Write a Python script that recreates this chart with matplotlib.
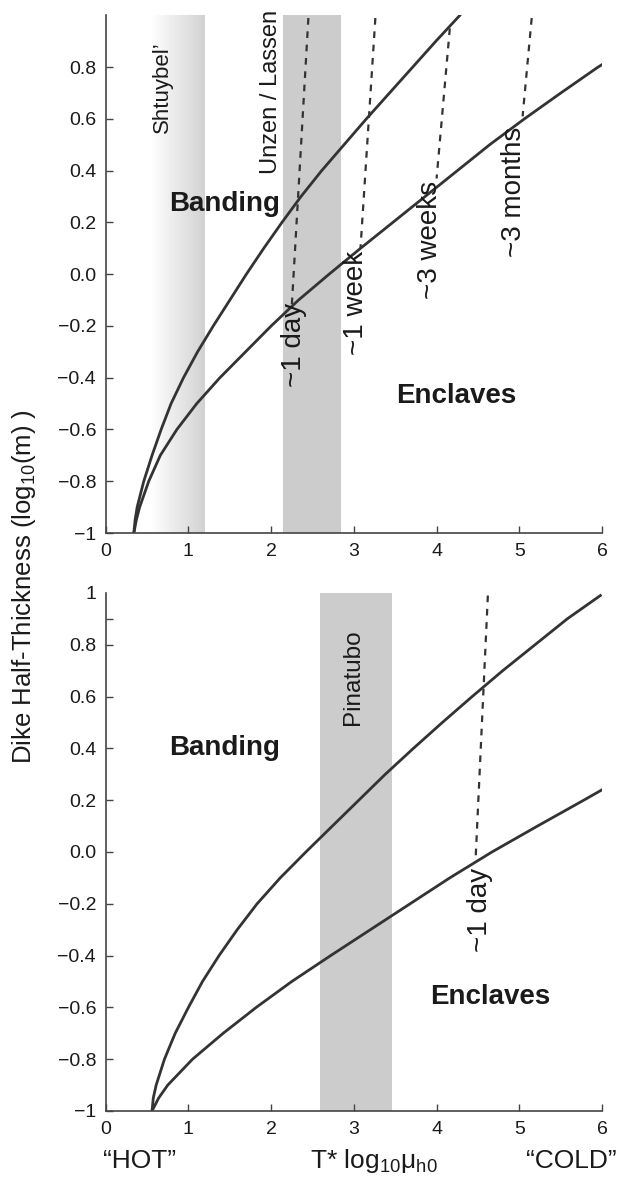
import numpy as np
import matplotlib
matplotlib.use("Agg")
import matplotlib.pyplot as plt
from matplotlib.colors import LinearSegmentedColormap

plt.rcParams['font.family'] = ['Liberation Sans', 'DejaVu Sans']
plt.rcParams['mathtext.fontset'] = 'custom'
plt.rcParams['mathtext.rm'] = 'Liberation Sans'
plt.rcParams['mathtext.it'] = 'Liberation Sans:italic'

# ---- data ----
# top panel boundary curves (x = T* log10 mu, y = log10 half thickness)
top_upper_y = [-1.0, -0.95, -0.9, -0.8, -0.7, -0.6, -0.5, -0.4, -0.3, -0.2, -0.1,
               0.0, 0.1, 0.2, 0.3, 0.4, 0.5, 0.6, 0.7, 0.8, 0.9, 1.0]
top_upper_x = [0.34, 0.355, 0.38, 0.46, 0.56, 0.67, 0.79, 0.94, 1.11, 1.30, 1.50,
               1.70, 1.91, 2.13, 2.36, 2.61, 2.88, 3.15, 3.43, 3.71, 3.99, 4.28]
top_lower_y = [-1.0, -0.95, -0.9, -0.8, -0.7, -0.6, -0.5, -0.4, -0.3, -0.2, -0.1,
               0.0, 0.1, 0.2, 0.3, 0.4, 0.5, 0.6, 0.7, 0.8, 0.81]
top_lower_x = [0.34, 0.37, 0.41, 0.52, 0.66, 0.86, 1.10, 1.38, 1.69, 2.00, 2.33,
               2.70, 3.08, 3.47, 3.86, 4.25, 4.64, 5.06, 5.50, 5.95, 6.0]

# bottom panel boundary curves
bot_upper_y = [-1.0, -0.95, -0.9, -0.8, -0.7, -0.6, -0.5, -0.4, -0.3, -0.2, -0.1,
               0.0, 0.1, 0.2, 0.3, 0.4, 0.5, 0.6, 0.7, 0.8, 0.9, 0.99]
bot_upper_x = [0.56, 0.575, 0.61, 0.71, 0.84, 1.00, 1.17, 1.37, 1.59, 1.83, 2.11,
               2.42, 2.74, 3.06, 3.38, 3.72, 4.07, 4.43, 4.80, 5.19, 5.58, 5.98]
bot_lower_y = [-1.0, -0.95, -0.9, -0.8, -0.7, -0.6, -0.5, -0.4, -0.3, -0.2, -0.1,
               0.0, 0.1, 0.2, 0.24]
bot_lower_x = [0.56, 0.64, 0.75, 1.05, 1.42, 1.82, 2.25, 2.72, 3.20, 3.68, 4.16,
               4.67, 5.22, 5.78, 6.0]

# timescale dashed lines: (top, bottom) end points and label anchors
top_times = ["~1 day", "~1 week", "~3 weeks", "~3 months"]
top_dash_x = [(2.45, 2.25), (3.26, 3.08), (4.16, 4.00), (5.15, 5.04)]
top_dash_y = [(0.99, -0.12), (0.99, 0.10), (0.95, 0.37), (0.99, 0.61)]
top_time_lbl = [(2.28, -0.11), (3.03, 0.09), (3.92, 0.36), (4.94, 0.57)]

bot_times = ["~1 day"]
bot_dash_x = [(4.62, 4.47)]
bot_dash_y = [(0.99, -0.04)]
bot_time_lbl = [(4.52, -0.06)]

# volcano ranges
shtuybel = (0.55, 1.20)
unzen = (2.14, 2.84)
pinatubo = (2.59, 3.46)

yticks = [-1.0, -0.8, -0.6, -0.4, -0.2, 0.0, 0.2, 0.4, 0.6, 0.8]
ytick_labels = ['\u22121', '\u22120.8', '\u22120.6', '\u22120.4', '\u22120.2',
                '0.0', '0.2', '0.4', '0.6', '0.8']
xticks = [0, 1, 2, 3, 4, 5, 6]

line_c = '#333333'
txt_c = '#1a1a1a'
band_c = '#cccccc'

fig = plt.figure(figsize=(6.23, 11.8), dpi=100)
ax1 = fig.add_axes([0.1697, 0.5483, 0.7966, 0.4386])
ax2 = fig.add_axes([0.1697, 0.0585, 0.7966, 0.4390])


def style(ax):
    ax.set_xlim(0, 6)
    ax.set_ylim(-1, 1)
    for s in ['top', 'right']:
        ax.spines[s].set_visible(False)
    for s in ['left', 'bottom']:
        ax.spines[s].set_color('#444444')
        ax.spines[s].set_linewidth(1.2)
    ax.set_xticks(xticks)
    ax.set_xticklabels([str(t) for t in xticks])
    ax.tick_params(direction='in', length=5, width=1, colors='#444444',
                   labelcolor=txt_c, labelsize=14, pad=7)


for ax in (ax1, ax2):
    style(ax)

# ---- top panel ----
grad_cmap = LinearSegmentedColormap.from_list('g', ['#ffffff', '#d2d2d2'])
ax1.imshow(np.linspace(0, 1, 256).reshape(1, -1), cmap=grad_cmap, aspect='auto',
           extent=[shtuybel[0], shtuybel[1], -1, 1], zorder=0)
ax1.axvspan(unzen[0], unzen[1], color=band_c, lw=0, zorder=0)
ax1.set_xlim(0, 6)
ax1.set_ylim(-1, 1)

ax1.plot(top_upper_x, top_upper_y, color=line_c, lw=2)
ax1.plot(top_lower_x, top_lower_y, color=line_c, lw=2)
for lab, dx, dy, (lx, ly) in zip(top_times, top_dash_x, top_dash_y, top_time_lbl):
    ax1.plot(dx, dy, color=line_c, lw=1.6, ls=(0, (3, 3)))
    ax1.text(lx, ly, lab, rotation=90, ha='center', va='top', fontsize=20, color=txt_c)

ax1.text(0.69, 0.90, "Shtuybel\u2019", rotation=90, ha='center', va='top',
         fontsize=16, color=txt_c)
ax1.text(2.0, 1.02, "Unzen / Lassen", rotation=90, ha='center', va='top',
         fontsize=17, color=txt_c)
ax1.text(1.44, 0.27, "Banding", ha='center', va='center', fontsize=20,
         fontweight='bold', color=txt_c)
ax1.text(4.24, -0.47, "Enclaves", ha='center', va='center', fontsize=20,
         fontweight='bold', color=txt_c)
ax1.set_yticks(yticks)
ax1.set_yticklabels(ytick_labels)

# ---- bottom panel ----
ax2.axvspan(pinatubo[0], pinatubo[1], color=band_c, lw=0, zorder=0)
ax2.plot(bot_upper_x, bot_upper_y, color=line_c, lw=2)
ax2.plot(bot_lower_x, bot_lower_y, color=line_c, lw=2)
for lab, dx, dy, (lx, ly) in zip(bot_times, bot_dash_x, bot_dash_y, bot_time_lbl):
    ax2.plot(dx, dy, color=line_c, lw=1.6, ls=(0, (3, 3)))
    ax2.text(lx, ly, lab, rotation=90, ha='center', va='top', fontsize=20, color=txt_c)

ax2.text(2.99, 0.86, "Pinatubo", rotation=90, ha='center', va='top',
         fontsize=17.5, color=txt_c)
ax2.text(1.44, 0.40, "Banding", ha='center', va='center', fontsize=20,
         fontweight='bold', color=txt_c)
ax2.text(4.65, -0.56, "Enclaves", ha='center', va='center', fontsize=20,
         fontweight='bold', color=txt_c)
ax2.set_yticks(yticks + [1.0])
ax2.set_yticklabels(ytick_labels + ['1'])
ax2.get_yticklines()[-2].set_visible(False)
ax2.set_yticks([0.9], minor=True)
ax2.tick_params(axis='y', which='minor', direction='in', length=5, width=1,
                colors='#444444')

# ---- shared labels ----
fig.text(0.039, 0.503, "Dike Half-Thickness (log$_{10}$(m) )", rotation=90,
         ha='center', va='center', fontsize=18.5, color=txt_c)
fig.text(140 / 623, 1 - 1161 / 1180, "\u201cHOT\u201d", ha='center', va='center',
         fontsize=19, color=txt_c)
fig.text(374 / 623, 1 - 1161 / 1180, "T* log$_{10}$\u03bc$_{\\mathrm{h0}}$",
         ha='center', va='center', fontsize=19, color=txt_c)
fig.text(571 / 623, 1 - 1161 / 1180, "\u201cCOLD\u201d", ha='center', va='center',
         fontsize=19, color=txt_c)

fig.savefig("out.png", dpi=100)
